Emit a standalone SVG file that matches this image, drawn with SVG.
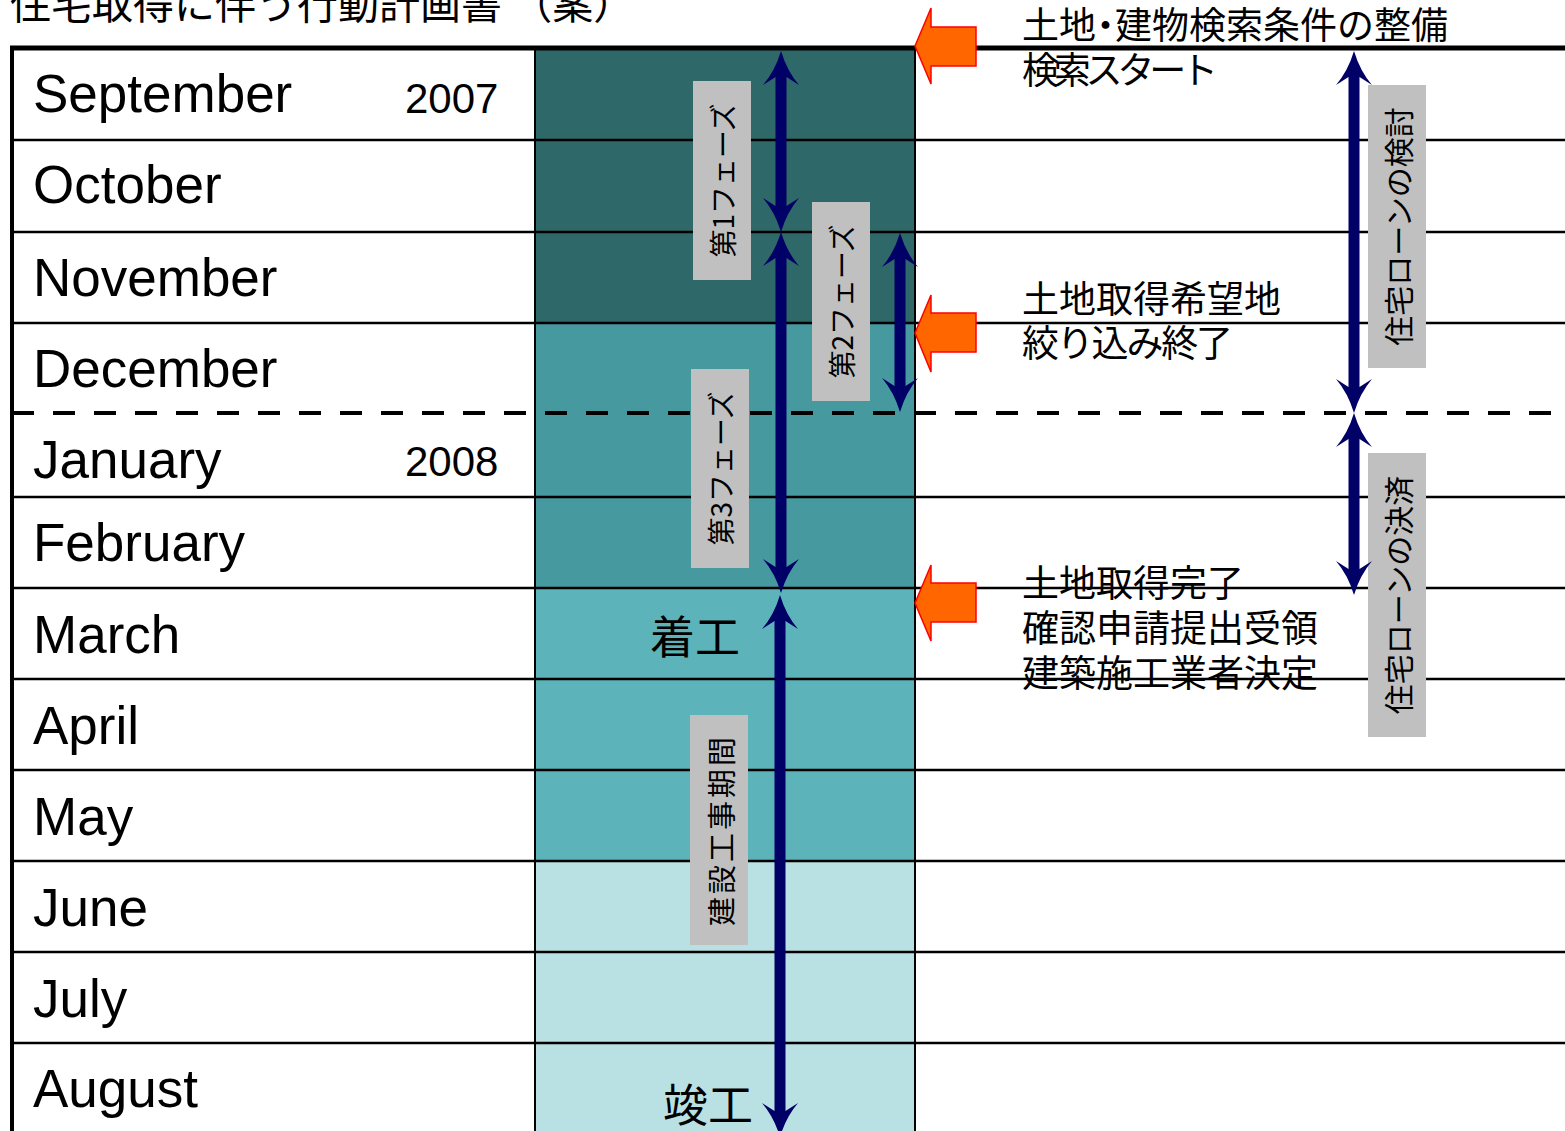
<svg xmlns="http://www.w3.org/2000/svg" width="1565" height="1131" viewBox="0 0 1565 1131">
<style>
.month{font-family:"Liberation Sans",Arial,sans-serif;font-size:53px;fill:#000}
.year{font-family:"Liberation Sans",Arial,sans-serif;font-size:42px;fill:#000}
.jp{font-family:"Noto Sans CJK JP","Noto Sans CJK SC",sans-serif;fill:#000}
.note{font-size:37px}
.vlab{font-size:28px}
.lbox{fill:#C0C0C0}
.hl{stroke:#000;stroke-width:2.5}
.nav{fill:#000066}
.org{fill:#FF6600;stroke:#FF0000;stroke-width:1.5}
</style>
<rect width="1565" height="1131" fill="#fff"/>
<g id="timeline-column">
<rect x="535" y="48" width="380" height="275" fill="#2E6869"/>
<rect x="535" y="323" width="380" height="265" fill="#45999F"/>
<rect x="535" y="588" width="380" height="273" fill="#5CB3BA"/>
<rect x="535" y="861" width="380" height="270" fill="#B9E0E3"/>
</g>
<g id="grid">
<line class="hl" x1="12" y1="140" x2="1565" y2="140"/>
<line class="hl" x1="12" y1="232" x2="1565" y2="232"/>
<line class="hl" x1="12" y1="323" x2="1565" y2="323"/>
<line class="hl" x1="12" y1="497" x2="1565" y2="497"/>
<line class="hl" x1="12" y1="588" x2="1565" y2="588"/>
<line class="hl" x1="12" y1="679" x2="1565" y2="679"/>
<line class="hl" x1="12" y1="770" x2="1565" y2="770"/>
<line class="hl" x1="12" y1="861" x2="1565" y2="861"/>
<line class="hl" x1="12" y1="952" x2="1565" y2="952"/>
<line class="hl" x1="12" y1="1043" x2="1565" y2="1043"/>
<line x1="535" y1="48" x2="535" y2="1131" stroke="#000" stroke-width="2"/>
<line x1="915" y1="48" x2="915" y2="1131" stroke="#000" stroke-width="2"/>
<line x1="12" y1="413" x2="1552" y2="413" stroke="#000" stroke-width="4" stroke-dasharray="22 19"/>
<line x1="10" y1="48" x2="1565" y2="48" stroke="#000" stroke-width="5"/>
<line x1="12" y1="46" x2="12" y2="1131" stroke="#000" stroke-width="4"/>
</g>
<g id="title">
<text class="jp" x="10" y="19" font-size="41">住宅取得に伴う行動計画書 （案）</text>
</g>
<g id="months">
<text class="month" x="33" y="112">September</text>
<text class="year" x="405" y="113">2007</text>
<text class="month" x="33" y="203">October</text>
<text class="month" x="33" y="296">November</text>
<text class="month" x="33" y="387">December</text>
<text class="month" x="33" y="478">January</text>
<text class="year" x="405" y="476">2008</text>
<text class="month" x="33" y="561">February</text>
<text class="month" x="33" y="653">March</text>
<text class="month" x="33" y="744">April</text>
<text class="month" x="33" y="835">May</text>
<text class="month" x="33" y="926">June</text>
<text class="month" x="33" y="1017">July</text>
<text class="month" x="33" y="1107">August</text>
</g>
<g id="label-phase1">
<rect class="lbox" x="693" y="81" width="58" height="199"/>
<text class="jp vlab" x="722" y="180.5" text-anchor="middle" dominant-baseline="central" transform="rotate(-90 722 180.5)">第1フェーズ</text>
</g>
<g id="label-phase2">
<rect class="lbox" x="812" y="202" width="58" height="199"/>
<text class="jp vlab" x="841" y="301.5" text-anchor="middle" dominant-baseline="central" transform="rotate(-90 841 301.5)">第2フェーズ</text>
</g>
<g id="label-phase3">
<rect class="lbox" x="691" y="369" width="58" height="199"/>
<text class="jp vlab" x="720" y="468.5" text-anchor="middle" dominant-baseline="central" transform="rotate(-90 720 468.5)">第3フェーズ</text>
</g>
<g id="label-construction">
<rect class="lbox" x="690" y="715" width="58" height="230"/>
<text class="jp" font-size="29" letter-spacing="3" x="720" y="830" text-anchor="middle" dominant-baseline="central" transform="rotate(-90 720 830)">建設工事期間</text>
</g>
<g id="label-loan-review">
<rect class="lbox" x="1368" y="85" width="58" height="283"/>
<text class="jp" font-size="30" x="1397" y="226.5" text-anchor="middle" dominant-baseline="central" transform="rotate(-90 1397 226.5)">住宅ローンの検討</text>
</g>
<g id="label-loan-settle">
<rect class="lbox" x="1368" y="453" width="58" height="284"/>
<text class="jp" font-size="30" x="1397" y="595" text-anchor="middle" dominant-baseline="central" transform="rotate(-90 1397 595)">住宅ローンの決済</text>
</g>
<g id="connectors">
<path class="nav" d="M781,51 Q787,71 799,85 L786.5,77 L786.5,206 L799,198 Q787,212 781,232 Q775,212 763,198 L775.5,206 L775.5,77 L763,85 Q775,71 781,51 Z"/>
<path class="nav" d="M781,232 Q787,252 799,266 L786.5,258 L786.5,567 L799,559 Q787,573 781,593 Q775,573 763,559 L775.5,567 L775.5,258 L763,266 Q775,252 781,232 Z"/>
<path class="nav" d="M780,595 Q786,615 798,629 L785.5,621 L785.5,1111 L798,1103 Q786,1117 780,1137 Q774,1117 762,1103 L774.5,1111 L774.5,621 L762,629 Q774,615 780,595 Z"/>
<path class="nav" d="M900,233 Q906,253 918,267 L905.5,259 L905.5,386 L918,378 Q906,392 900,412 Q894,392 882,378 L894.5,386 L894.5,259 L882,267 Q894,253 900,233 Z"/>
<path class="nav" d="M1354,51 Q1360,71 1372,85 L1359.5,77 L1359.5,387 L1372,379 Q1360,393 1354,413 Q1348,393 1336,379 L1348.5,387 L1348.5,77 L1336,85 Q1348,71 1354,51 Z"/>
<path class="nav" d="M1354,413 Q1360,433 1372,447 L1359.5,439 L1359.5,569 L1372,561 Q1360,575 1354,595 Q1348,575 1336,561 L1348.5,569 L1348.5,439 L1336,447 Q1348,433 1354,413 Z"/>
<polygon class="org" points="915,46 931,8 931,27 976,27 976,66 931,66 931,84"/>
<polygon class="org" points="915,333 931,295 931,313 976,313 976,352 931,352 931,372"/>
<polygon class="org" points="915,603 931,565 931,583 976,583 976,622 931,622 931,641"/>
</g>
<g id="milestones">
<text class="jp" font-size="45" x="650" y="654">着工</text>
<text class="jp" font-size="45" x="663" y="1122">竣工</text>
</g>
<g id="note-search">
<text class="jp note" x="1022" y="39">土地<tspan dx="-9">・</tspan><tspan dx="-9">建物検索条件の整備</tspan></text>
<text class="jp note" x="1022" y="84" textLength="196" lengthAdjust="spacing">検索スタート</text>
</g>
<g id="note-land">
<text class="jp note" x="1022" y="313">土地取得希望地</text>
<text class="jp note" x="1022" y="357" textLength="211" lengthAdjust="spacing">絞り込み終了</text>
</g>
<g id="note-acquire">
<text class="jp note" x="1022" y="597">土地取得完了</text>
<text class="jp note" x="1022" y="642">確認申請提出受領</text>
<text class="jp note" x="1022" y="687">建築施工業者決定</text>
</g>
</svg>
